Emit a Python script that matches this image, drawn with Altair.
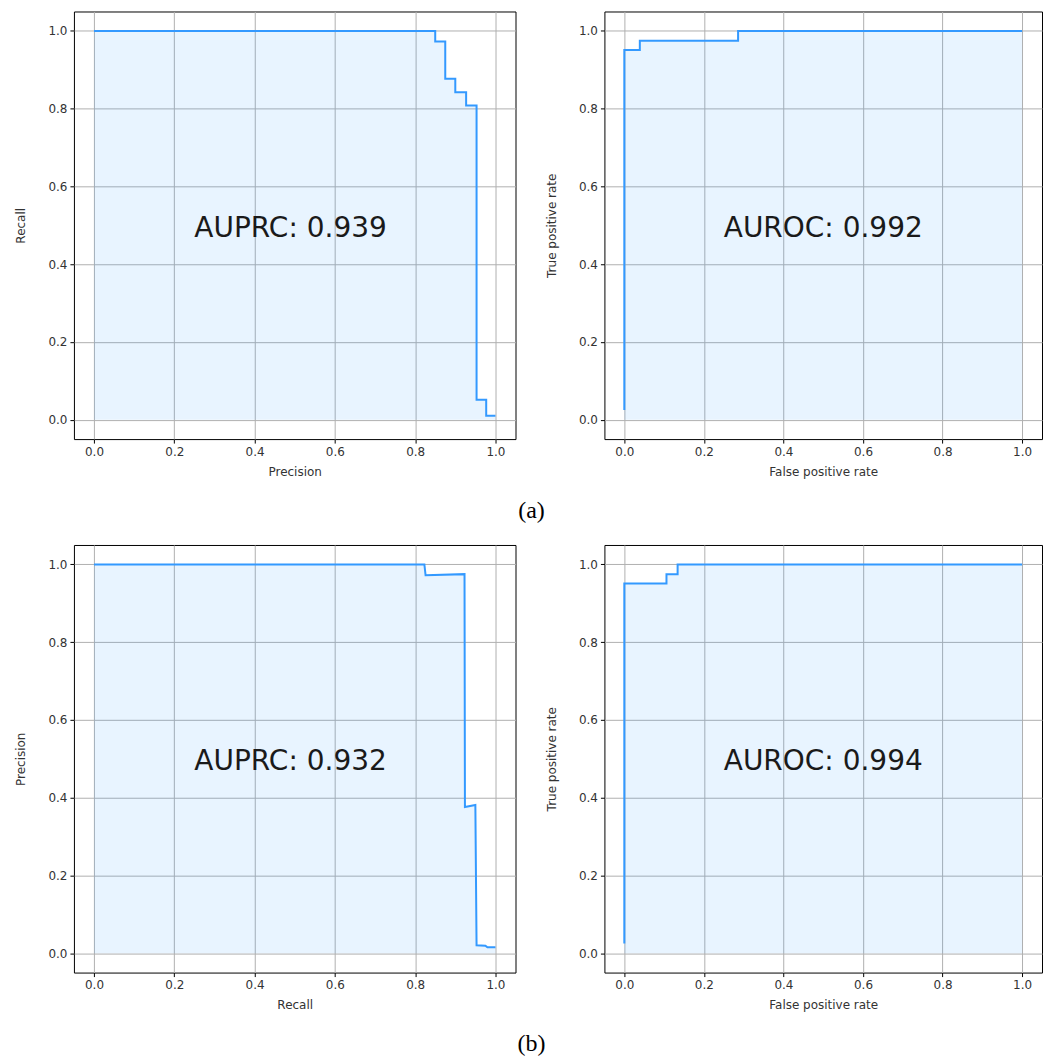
import altair as alt
import pandas as pd

# ---- data ----
# (a) left: precision (x) vs recall (y), step-after vertices
pr_a_x = [0.0, 0.850, 0.875, 0.900, 0.927, 0.953, 0.977, 1.0]
pr_a_y = [1.0, 0.973, 0.877, 0.842, 0.808, 0.051, 0.010, 0.010]
# (a) right: ROC, false positive rate (x) vs true positive rate (y)
roc_a_x = [0.0, 0.0, 0.039, 0.286, 1.0]
roc_a_y = [0.025, 0.951, 0.975, 1.0, 1.0]
# (b) left: recall (x) vs precision (y), linear vertices
pr_b_x = [0.0, 0.823, 0.826, 0.923, 0.924, 0.950, 0.953, 0.975, 0.980, 1.0]
pr_b_y = [1.0, 1.0, 0.972, 0.975, 0.376, 0.381, 0.020, 0.019, 0.015, 0.015]
# (b) right: ROC
roc_b_x = [0.0, 0.0, 0.106, 0.134, 1.0]
roc_b_y = [0.025, 0.951, 0.975, 1.0, 1.0]

labels = ["AUPRC: 0.939", "AUROC: 0.992", "AUPRC: 0.932", "AUROC: 0.994"]
captions = ["(a)", "(b)"]
tick_values = [0.0, 0.2, 0.4, 0.6, 0.8, 1.0]

LINE = "#3399ff"
FILL = "#1e90ff"


def panel(xs, ys, interp, xtitle, ytitle, label, w):
    df = pd.DataFrame({"x": xs, "y": ys, "b": [0.0] * len(xs), "i": list(range(len(xs)))})
    xsc = alt.Scale(domain=[-0.05, 1.05], nice=False, zero=False)
    ysc = alt.Scale(domain=[-0.05, 1.05], nice=False, zero=False)
    xax = alt.Axis(values=tick_values, format=".1f", title=xtitle, grid=True,
                   titlePadding=9, labelPadding=3)
    yax = alt.Axis(values=tick_values, format=".1f", title=ytitle, grid=True,
                   titlePadding=20, labelPadding=3)
    base = alt.Chart(df)
    area = base.mark_area(interpolate=interp, color=FILL, opacity=0.1).encode(
        x=alt.X("x:Q", scale=xsc, axis=xax),
        y=alt.Y("y:Q", scale=ysc, axis=yax),
        y2="b:Q",
    )
    line = base.mark_line(interpolate=interp, color=LINE, strokeWidth=2).encode(
        x="x:Q", y="y:Q", order=alt.Order("i:Q")
    )
    text = alt.Chart(pd.DataFrame({"t": [label]})).mark_text(
        align="left", baseline="alphabetic", fontSize=28, font="DejaVu Sans",
        color="#1a1a1a"
    ).encode(x=alt.datum(0.25), y=alt.datum(0.47), text="t:N")
    return alt.layer(area, line, text).properties(width=w, height=428)


WL, WR = 442, 438


def caption(t):
    return alt.TitleParams(t, orient="bottom", anchor="middle",
                           font="Liberation Serif", fontSize=24,
                           fontWeight="normal", color="black", offset=21, dx=3)


row_a = alt.hconcat(
    panel(pr_a_x, pr_a_y, "step-after", "Precision", "Recall", labels[0], WL),
    panel(roc_a_x, roc_a_y, "step-after", "False positive rate", "True positive rate", labels[1], WR),
    spacing=28,
).properties(title=caption(captions[0]))

row_b = alt.hconcat(
    panel(pr_b_x, pr_b_y, "linear", "Recall", "Precision", labels[2], WL),
    panel(roc_b_x, roc_b_y, "step-after", "False positive rate", "True positive rate", labels[3], WR),
    spacing=28,
).properties(title=caption(captions[1]))

chart = alt.vconcat(row_a, row_b, spacing=21).properties(
    padding={"left": 14, "top": 10, "right": 0, "bottom": 0},
    background="white",
).configure_view(stroke="black", strokeWidth=1).configure_axis(
    domain=False, gridColor="#b0b0b0", gridWidth=1, gridOpacity=1,
    tickColor="black", tickSize=4, labelFont="DejaVu Sans", labelFontSize=12,
    titleFont="DejaVu Sans", titleFontSize=12, titleFontWeight="normal",
    labelColor="#333333", titleColor="#333333"
)

chart.save("out.html", embed_options={"renderer": "svg", "actions": False})
